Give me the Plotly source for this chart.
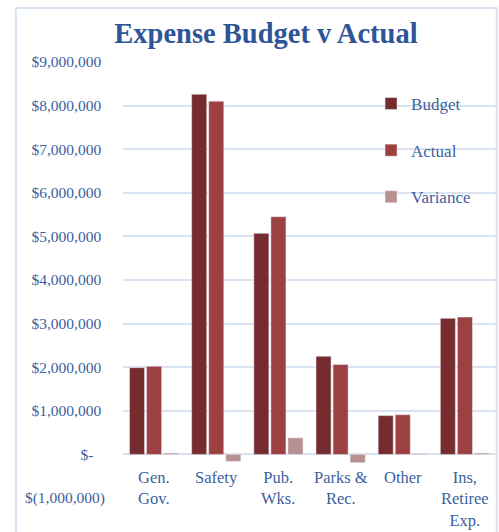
import plotly.graph_objects as go

# Department categories and dollar amounts
categories = ["Gen.<br>Gov.", "Safety", "Pub.<br>Wks.", "Parks &<br>Rec.", "Other", "Ins,<br>Retiree<br>Exp."]
budget = [1990000, 8260000, 5070000, 2250000, 890000, 3120000]
actual = [2020000, 8100000, 5450000, 2060000, 910000, 3150000]
variance = [30000, -160000, 380000, -190000, 20000, 30000]

tick_values = [-1000000, 0, 1000000, 2000000, 3000000, 4000000, 5000000,
               6000000, 7000000, 8000000, 9000000]
tick_labels = ["$(1,000,000)", "$-\u00a0\u00a0\u00a0", "$1,000,000\u00a0", "$2,000,000\u00a0",
               "$3,000,000\u00a0", "$4,000,000\u00a0", "$5,000,000\u00a0", "$6,000,000\u00a0",
               "$7,000,000\u00a0", "$8,000,000\u00a0", "$9,000,000\u00a0"]

FONT = "Liberation Serif"
TEXT_BLUE = "#3d5f9e"
GRID = "#d9e3f2"

x_idx = list(range(len(categories)))

fig = go.Figure()
fig.add_trace(go.Bar(name="Budget", x=x_idx, y=budget, marker_color="#762c2e",
                     legendgroup="b"))
fig.add_trace(go.Bar(name="Actual", x=x_idx, y=actual, marker_color="#9c4042",
                     legendgroup="a"))
fig.add_trace(go.Bar(name="Variance", x=x_idx, y=variance, marker_color="#b99090",
                     legendgroup="v"))

# Category labels sit just below the zero line
for i, label in enumerate(categories):
    fig.add_annotation(x=i, y=0, xref="x", yref="y", text=label, showarrow=False,
                       yanchor="top", yshift=-12, align="center",
                       font=dict(family=FONT, size=16.5, color=TEXT_BLUE))

# Chart frame
fig.add_shape(type="rect", xref="paper", yref="paper", x0=-0.287, x1=1.002,
              y0=-0.2, y1=1.124, line=dict(color=GRID, width=2), layer="below")

fig.update_layout(
    width=499, height=532,
    margin=dict(l=123, r=3, t=62, b=34),
    paper_bgcolor="white", plot_bgcolor="white",
    barmode="group", bargap=0.177, bargroupgap=0.118,
    title=dict(text="<b>Expense Budget v Actual</b>", x=0.533, xanchor="center",
               y=0.938, yanchor="middle",
               font=dict(family=FONT, size=28.5, color="#2e5597")),
    xaxis=dict(range=[-0.5, 5.5], showticklabels=False, showgrid=False,
               zeroline=False, showline=False, fixedrange=True),
    yaxis=dict(range=[-1000000, 9000000], tickvals=tick_values, ticktext=tick_labels,
               showgrid=True, gridcolor=GRID, gridwidth=2,
               zeroline=True, zerolinecolor=GRID, zerolinewidth=2,
               ticklabelstandoff=17,
               tickfont=dict(family=FONT, size=15.5, color=TEXT_BLUE)),
    legend=dict(x=0.665, y=0.945, xanchor="left", yanchor="top",
                bgcolor="rgba(0,0,0,0)", tracegroupgap=21.5,
                font=dict(family=FONT, size=17, color=TEXT_BLUE)),
    showlegend=True,
)

fig.write_html("out.html")
